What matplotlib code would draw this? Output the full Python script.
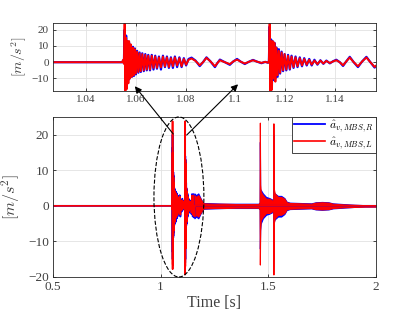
import matplotlib
matplotlib.use("Agg")
from matplotlib import pyplot as plt
from matplotlib.patches import Ellipse, ConnectionPatch

plt.rcParams['font.family'] = ['Liberation Serif', 'DejaVu Serif']
plt.rcParams['mathtext.fontset'] = 'cm'

t_knots = [0.5, 1.0545, 1.0549, 1.0552,
           1.0555, 1.0558, 1.0561, 1.0564, 1.0567, 1.0570, 1.0573, 1.0576, 1.0580, 1.0584,
           1.0588, 1.0592, 1.0596, 1.0600, 1.0605, 1.0610, 1.0615, 1.0620, 1.0626, 1.0632,
           1.0638, 1.0644, 1.0650, 1.0657, 1.0664, 1.0671, 1.0678, 1.0685, 1.0693, 1.0701,
           1.0709, 1.0717, 1.0725, 1.0733, 1.0741, 1.0749, 1.0757, 1.0766, 1.0775, 1.0784,
           1.0793, 1.0802, 1.0812, 1.0824, 1.0840, 1.0857, 1.0870, 1.0884, 1.0900, 1.0918,
           1.0928, 1.0938, 1.0958, 1.0978, 1.0992, 1.1007, 1.1022, 1.1038, 1.1055, 1.1071,
           1.1088, 1.1105, 1.1120, 1.1132, 1.1135,
           1.1138, 1.1141, 1.1144, 1.1147, 1.1150, 1.1153, 1.1157, 1.1161, 1.1165, 1.1170,
           1.1175, 1.1180, 1.1186, 1.1192, 1.1198, 1.1205, 1.1212, 1.1219, 1.1226, 1.1234,
           1.1242, 1.1250, 1.1259, 1.1268, 1.1277, 1.1287, 1.1297, 1.1307, 1.1318, 1.1330,
           1.1342, 1.1354, 1.1366, 1.1380, 1.1393, 1.1406, 1.1420, 1.1433, 1.1446, 1.1460,
           1.1476, 1.1493, 1.1510, 1.1527, 1.1543, 1.1560, 1.1575, 1.1600, 2.0]
acc_L = [0, 0, 1.5, -1.0,
         23.8, -17.8, 15, -16.5, 13, -13, 13, -10, 11, -9,
         9, -8, 8, -7, 6.5, -6, 5.5, -5.5, 5, -5,
         4.5, -4.5, 4, -4.5, 4, -3.5, 3.5, -3.5, 3, -3.2,
         3.5, -2.5, 3, -3, 2.5, -2.5, 3, -2, 2.5, -2.5,
         2, -1.5, 1.5, 2.3, 0.8, -1.9, 0, 2.7, 0.5, -2.5,
         -0.5, 1.2, 0, -1.2, 0.5, 1.6, 0.3, -0.8, 0.3, 1.2,
         0.3, -0.4, 0.2, -0.3, 0.8,
         23.8, -19.3, 13, -17, 13, -10, 12, -12, 9, -8,
         7, -6.5, 6, -5, 5, -4.5, 4, -4, 3.5, -3,
         3, -2.5, 2.5, -2, 2, -1.5, 1.5, -1.5, 1, -1.2,
         1, -0.8, 0.8, -0.5, 0.5, 1.2, 0, -1.9, 0.5, 2.9,
         0, -2.5, 0.5, 2.9, 0, -2.9, -1, 0, 0]
acc_R = [0, 0, 1.0, -0.5,
         20, -15, 16.4, -13, 13, -11, 12, -10, 10, -9,
         9.5, -8.5, 8.5, -7.5, 7, -6.5, 6, -6, 5.5, -5.5,
         5, -5, 4.5, -5, 4.5, -4.5, 4, -4, 3.5, -4.5,
         4, -3, 3.5, -3.5, 3, -3.5, 3.5, -3, 3, -3,
         2.5, -2, 2, 2.8, 1, -2.4, 0, 3, 0.5, -3,
         -0.5, 1.6, 0, -1.6, 0.5, 2, 0.3, -1.1, 0.3, 1.4,
         0.3, -0.6, 0.2, -0.3, 0.5,
         22, -16, 14, -15, 13, -11, 12, -10, 9, -9,
         8, -7, 6.5, -5.5, 5, -5, 4.5, -4.5, 4, -3.5,
         3.5, -3, 3, -2.5, 2.5, -2, 2, -2, 1.5, -1.5,
         1.2, -1, 1, -0.7, 0.6, 1.5, 0, -2.3, 0.5, 3.3,
         0, -3, 0.5, 3.3, 0, -3.3, -1, 0, 0]

# envelope of the dense vibration after the zoom window (full view only)
env_t = [1.157, 1.165, 1.175, 1.185, 1.195, 1.200, 1.25, 1.30, 1.35, 1.40, 1.455,
         1.4600, 1.4610, 1.4625, 1.465, 1.475, 1.49, 1.505, 1.518,
         1.5230, 1.5240, 1.5255, 1.530, 1.545, 1.560, 1.575, 1.585, 1.60,
         1.65, 1.70, 1.72, 1.75, 1.78, 1.80, 1.85, 1.90, 1.95, 2.0]
env_hi_L = [3, 2.5, 3, 2, 1, 0.7, 0.6, 0.6, 0.5, 0.5, 0.5,
            1, 23.4, 6, 4, 3, 2, 2, 1.5,
            1.5, 23.2, 5, 3.5, 2.5, 2.5, 2, 1, 0.8,
            0.7, 0.6, 0.9, 1.0, 0.9, 0.6, 0.4, 0.3, 0.2, 0.2]
env_lo_L = [-3, -2.5, -3, -2, -1, -0.7, -0.6, -0.6, -0.5, -0.5, -0.5,
            -1, -16.5, -7, -4, -3, -2, -2, -1.5,
            -1.5, -19.3, -5, -3.5, -2.5, -2.5, -2, -1, -0.8,
            -0.7, -0.6, -0.9, -1.0, -0.9, -0.6, -0.4, -0.3, -0.2, -0.2]
env_hi_R = [3.5, 3, 3.5, 2.2, 1.1, 0.8, 0.7, 0.6, 0.6, 0.6, 0.6,
            1, 18, 4.8, 4.5, 3.5, 2.5, 2.2, 1.8,
            1.5, 20, 4, 3.5, 2.8, 2.8, 2.2, 1.2, 0.9,
            0.8, 0.7, 1.0, 1.1, 1.0, 0.7, 0.5, 0.3, 0.2, 0.2]
env_lo_R = [-3.5, -3, -3.5, -2.2, -1.1, -0.8, -0.7, -0.6, -0.6, -0.6, -0.6,
            -1, -12, -6.7, -5, -3.5, -2.5, -2.2, -1.8,
            -1.5, -15, -4.5, -3.8, -3, -3, -2.3, -1.2, -0.9,
            -0.8, -0.7, -1.0, -1.1, -1.0, -0.7, -0.5, -0.3, -0.2, -0.2]

main_xticks = [0.5, 1, 1.5, 2]
main_yticks = [-20, -10, 0, 10, 20]
zoom_xticks = [1.04, 1.06, 1.08, 1.1, 1.12, 1.14]
zoom_yticks = [-10, 0, 10, 20]

BLUE = '#0000ff'
RED = '#ff0000'
AXC = '#262626'
TXC = '#404040'


def style_axis(a, fs):
    for s in a.spines.values():
        s.set_color(AXC)
        s.set_linewidth(0.6)
    a.tick_params(direction='in', top=True, right=True, length=2.5, width=0.6,
                  color=AXC, labelcolor=TXC, labelsize=fs, pad=3)
    a.grid(True, color='#e2e2e2', linewidth=0.6)
    a.set_axisbelow(True)


fig = plt.figure(figsize=(4.15, 3.12), dpi=100)
ax = fig.add_axes([0.1277, 0.1122, 0.778, 0.513])
axins = fig.add_axes([0.1277, 0.708, 0.778, 0.218])

# full view
ax.plot(t_knots, acc_R, color=BLUE, lw=1.3, label=r'$\hat{a}_{v,MBS,R}$')
ax.fill_between(env_t, env_lo_R, env_hi_R, color=BLUE, lw=0.8)
ax.plot(t_knots, acc_L, color=RED, lw=1.2, label=r'$\hat{a}_{v,MBS,L}$')
ax.fill_between(env_t, env_lo_L, env_hi_L, color=RED, lw=0.8)
ax.set_xlim(0.5, 2)
ax.set_ylim(-20, 25)
ax.set_xticks(main_xticks)
ax.set_xticklabels(['0.5', '1', '1.5', '2'])
ax.set_yticks(main_yticks)
style_axis(ax, 9.5)
ax.set_xlabel('Time [s]', fontsize=11.5, color=TXC, labelpad=1)
ax.set_ylabel(r'$[m/s^2]$', fontsize=11.5, color=TXC, labelpad=0)
ax.yaxis.set_label_coords(-0.095, 0.5)
leg = ax.legend(loc='upper right', fontsize=8.3, borderaxespad=0, fancybox=False,
                framealpha=1, edgecolor=AXC, handlelength=2.7, borderpad=0.15,
                labelspacing=0.1, handletextpad=0.4)
leg.get_frame().set_linewidth(0.6)

ell = Ellipse((1.085, 2.5), 0.232, 45, fill=False, ls='--', lw=0.8,
              color='k', clip_on=False, zorder=5)
ax.add_patch(ell)

# zoom window
axins.plot(t_knots, acc_R, color=BLUE, lw=1.6)
axins.plot(t_knots, acc_L, color=RED, lw=1.4)
axins.set_xlim(1.0267, 1.1565)
axins.set_ylim(-17.8, 24.1)
axins.set_xticks(zoom_xticks)
axins.set_xticklabels(['1.04', '1.06', '1.08', '1.1', '1.12', '1.14'])
axins.set_yticks(zoom_yticks)
style_axis(axins, 8)
axins.set_ylabel(r'$[m/s^2]$', fontsize=10, color=TXC, labelpad=0)
axins.yaxis.set_label_coords(-0.075, 0.5)

for tail, head in [((1.0588, 20.2), (1.0596, -14.8)), ((1.121, 19.9), (1.1011, -13.6))]:
    con = ConnectionPatch(xyA=tail, coordsA=ax.transData, xyB=head, coordsB=axins.transData,
                          arrowstyle='-|>', mutation_scale=10, color='k', lw=0.8, zorder=10)
    fig.add_artist(con)

fig.savefig('out.png', dpi=100)
